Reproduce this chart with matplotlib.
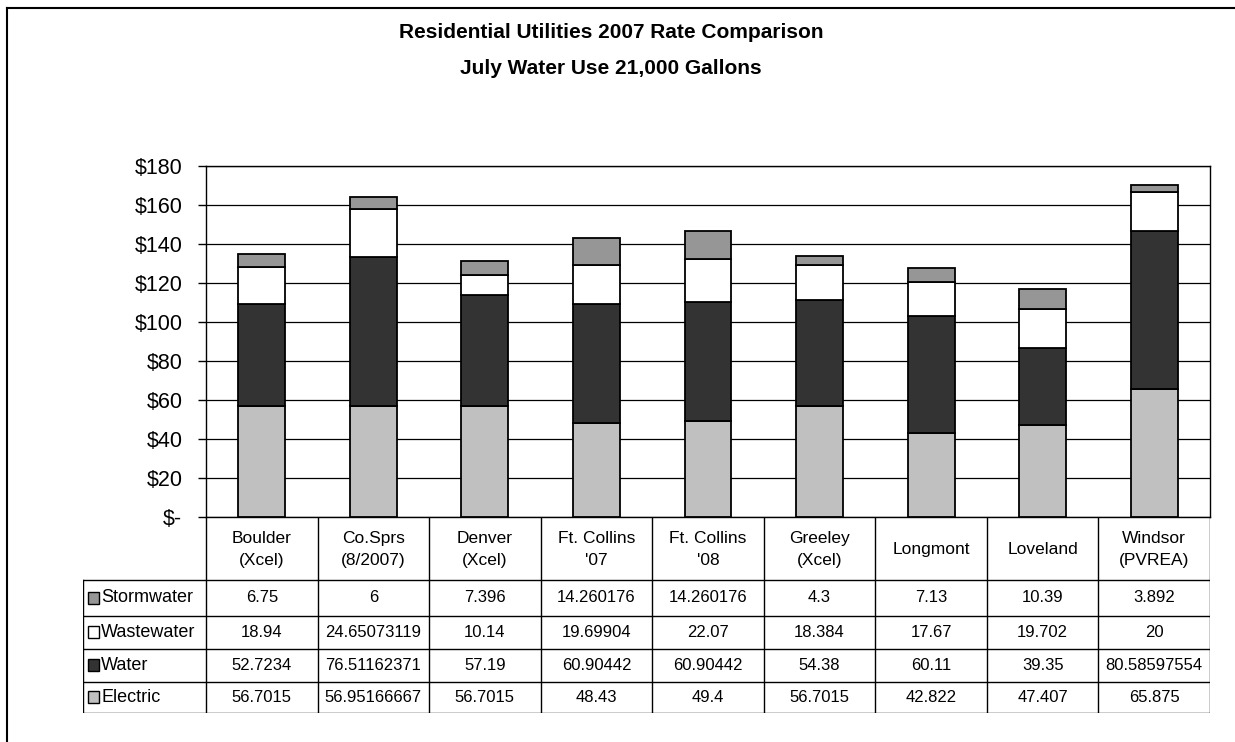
import matplotlib.pyplot as plt
from matplotlib.patches import Rectangle
from matplotlib.ticker import FuncFormatter

plt.rcParams['font.family'] = ['Liberation Sans', 'DejaVu Sans']

# data
cities = ['Boulder\n(Xcel)', 'Co.Sprs\n(8/2007)', 'Denver\n(Xcel)', "Ft. Collins\n'07",
          "Ft. Collins\n'08", 'Greeley\n(Xcel)', 'Longmont', 'Loveland', 'Windsor\n(PVREA)']
electric = [56.7015, 56.95166667, 56.7015, 48.43, 49.4, 56.7015, 42.822, 47.407, 65.875]
water = [52.7234, 76.51162371, 57.19, 60.90442, 60.90442, 54.38, 60.11, 39.35, 80.58597554]
wastewater = [18.94, 24.65073119, 10.14, 19.69904, 22.07, 18.384, 17.67, 19.702, 20]
stormwater = [6.75, 6, 7.396, 14.260176, 14.260176, 4.3, 7.13, 10.39, 3.892]

series_names = ['Electric', 'Water', 'Wastewater', 'Stormwater']
series_vals = [electric, water, wastewater, stormwater]
series_colors = ['#c0c0c0', '#333333', '#ffffff', '#969696']

W, H = 1235, 742
fig = plt.figure(figsize=(W / 100, H / 100), dpi=100)

# layout in pixels
L, R, T, B = 206, 1210, 166, 517
TAB_L, TAB_B = 83, 713
row_lines = [580, 616, 649, 682, 713]
colw = (R - L) / len(cities)

# frame around chart area (top and left only visible)
fig.add_artist(plt.Line2D([7 / W, 1], [1 - 8 / H, 1 - 8 / H], color='black', lw=1.5))
fig.add_artist(plt.Line2D([7 / W, 7 / W], [0, 1 - 8 / H], color='black', lw=1.5))

fig.text(611 / W, 1 - 33 / H, 'Residential Utilities 2007 Rate Comparison',
         ha='center', va='center', fontsize=15, fontweight='bold')
fig.text(611 / W, 1 - 68 / H, 'July Water Use 21,000 Gallons',
         ha='center', va='center', fontsize=15, fontweight='bold')

# bar chart
ax = fig.add_axes([L / W, 1 - B / H, (R - L) / W, (B - T) / H])
x = list(range(len(cities)))
bottom = [0] * len(cities)
for name, vals, c in zip(series_names, series_vals, series_colors):
    ax.bar(x, vals, width=0.42, bottom=bottom, color=c, edgecolor='black',
           linewidth=1.3, zorder=3)
    bottom = [b + v for b, v in zip(bottom, vals)]

ax.set_xlim(-0.5, len(cities) - 0.5)
ax.set_ylim(0, 180)
ax.set_yticks(range(0, 181, 20))
ax.yaxis.set_major_formatter(FuncFormatter(lambda v, p: '$-' if v == 0 else f'${v:.0f}'))
ax.tick_params(axis='y', length=6, width=1, pad=11, labelsize=15.5)
ax.set_xticks([])
ax.grid(axis='y', color='black', linewidth=0.9, zorder=0)
for s in ax.spines.values():
    s.set_linewidth(1)

# data table
tax = fig.add_axes([TAB_L / W, 1 - TAB_B / H, (R - TAB_L) / W, (TAB_B - B) / H])
x_left = -0.5 - (L - TAB_L) / colw
tax.set_xlim(x_left, len(cities) - 0.5)
tax.set_ylim(TAB_B, B)
tax.axis('off')

lk = dict(color='black', linewidth=1)
for i in range(len(cities) + 1):
    tax.plot([i - 0.5, i - 0.5], [B, TAB_B], **lk)
tax.plot([x_left, x_left], [row_lines[0], TAB_B], **lk)
for y in row_lines:
    tax.plot([x_left, len(cities) - 0.5], [y, y], **lk)

for i, c in enumerate(cities):
    tax.text(i, (B + row_lines[0]) / 2 + 1, c, ha='center', va='center',
             fontsize=12.5, linespacing=1.55)

table_rows = list(zip(series_names, series_vals, series_colors))[::-1]
key_w = 11 / colw
for r, (name, vals, c) in enumerate(table_rows):
    yc = (row_lines[r] + row_lines[r + 1]) / 2
    kx = x_left + (88 - TAB_L) / colw
    tax.add_patch(Rectangle((kx, yc - 6), key_w, 12, facecolor=c,
                            edgecolor='black', linewidth=1))
    tax.text(kx + key_w + 2 / colw, yc, name, ha='left', va='center', fontsize=13)
    for i, v in enumerate(vals):
        tax.text(i, yc, str(v), ha='center', va='center', fontsize=12)

fig.savefig('out.png', dpi=100)
